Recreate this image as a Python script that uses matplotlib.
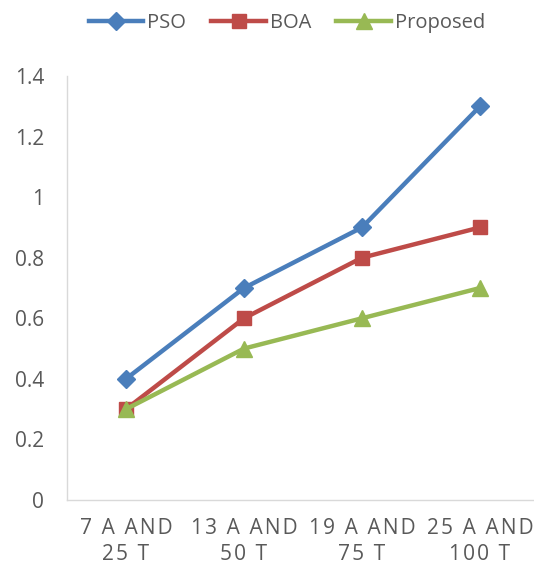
import matplotlib
matplotlib.use("Agg")
import matplotlib.pyplot as plt

categories = ["7 A AND\n25 T", "13 A AND\n50 T", "19 A AND\n75 T", "25 A AND\n100 T"]
pso = [0.4, 0.7, 0.9, 1.3]
boa = [0.3, 0.6, 0.8, 0.9]
proposed = [0.3, 0.5, 0.6, 0.7]
yticks = [0, 0.2, 0.4, 0.6, 0.8, 1.0, 1.2, 1.4]
ytick_labels = ["0", "0.2", "0.4", "0.6", "0.8", "1", "1.2", "1.4"]

plt.rcParams["font.family"] = ["Open Sans", "DejaVu Sans"]

W, H = 534, 564
fig = plt.figure(figsize=(W / 100, H / 100), dpi=100)
ax = fig.add_axes([67 / W, (H - 500) / H, 472 / W, 424 / H])

def spaced(s):
    # widen letter spacing with hair spaces
    return "\n".join("\u200a".join(line) for line in s.split("\n"))

x = list(range(len(categories)))
ax.plot(x, pso, color="#4A7EBB", lw=3.2, marker="D", ms=9, label="PSO")
ax.plot(x, boa, color="#BE4B48", lw=3.2, marker="s", ms=10, label="BOA")
ax.plot(x, proposed, color="#98B954", lw=3.2, marker="^", ms=11, label="Proposed")

ax.set_xlim(-0.5, 3.5)
ax.set_ylim(0, 1.4)
ax.set_yticks(yticks)
ax.set_yticklabels(ytick_labels)
ax.set_xticks(x)
ax.set_xticklabels([spaced(c) for c in categories], linespacing=1.3)

for s in ["top", "right"]:
    ax.spines[s].set_visible(False)
for s in ["left", "bottom"]:
    ax.spines[s].set_color("#D9D9D9")
    ax.spines[s].set_linewidth(1)
ax.tick_params(axis="both", length=0, colors="#595959", labelsize=15)
ax.tick_params(axis="y", pad=16.5)
ax.tick_params(axis="x", pad=13)

fig.legend(loc="center", bbox_to_anchor=(287 / W, 1 - 23 / H), ncol=3, frameon=False,
           fontsize=14.5, labelcolor="#595959", handlelength=2.7, columnspacing=1.25,
           handletextpad=0.2)

fig.savefig("out.png", dpi=100)
